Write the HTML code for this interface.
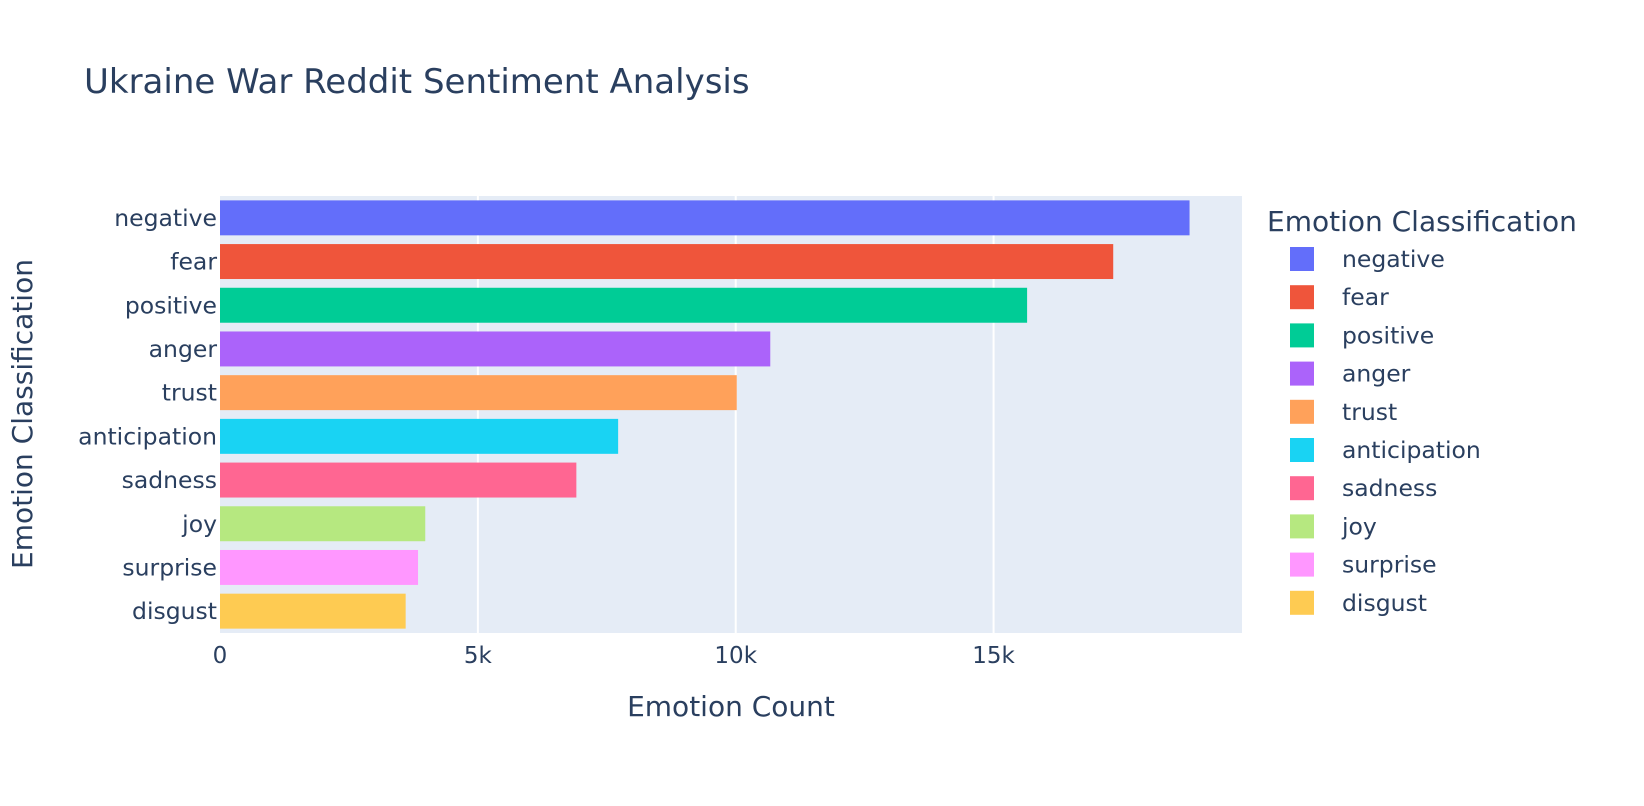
<!DOCTYPE html>
<html><head><meta charset="utf-8"><style>
html,body{margin:0;padding:0;background:#fff;}
svg{display:block;font-family:"DejaVu Sans","Liberation Sans",sans-serif;fill:#2a3f5f;}
</style></head><body>
<svg id="chart" width="1644" height="806">
<text x="84" y="93" font-size="34">Ukraine War Reddit Sentiment Analysis</text>
<rect x="220" y="196" width="1022" height="437" fill="#e5ecf6"/>
<g id="grid"></g><g id="bars"></g><g id="yticks"></g><g id="xticks"></g><g id="legend"></g>
<text x="731" y="716" font-size="28" text-anchor="middle">Emotion Count</text>
<text transform="translate(32,414) rotate(-90)" font-size="28" text-anchor="middle">Emotion Classification</text>
<text x="1267" y="231" font-size="28">Emotion Classification</text>
</svg>
<script>
const categories=["negative","fear","positive","anger","trust","anticipation","sadness","joy","surprise","disgust"];
const values=[18800,17320,15650,10670,10020,7720,6910,3980,3840,3600];
const colors=["#636efa","#EF553B","#00cc96","#ab63fa","#FFA15A","#19d3f3","#FF6692","#B6E880","#FF97FF","#FECB52"];
const xTicks=[0,5000,10000,15000];
const xTickLabels=["0","5k","10k","15k"];
const NS="http://www.w3.org/2000/svg";
const L=220,R=1242,T=196,B=633,XMAX=19817;
const x=v=>L+(v/XMAX)*(R-L);
const band=(B-T)/categories.length;
const y=i=>T+band*i;
function mk(tag,attrs,parent,txt){const e=document.createElementNS(NS,tag);for(const k in attrs)e.setAttribute(k,attrs[k]);if(txt!==undefined)e.textContent=txt;document.getElementById(parent).appendChild(e);return e;}
xTicks.forEach((t,i)=>{
  if(t>0){const g=mk("line",{x1:x(t),x2:x(t),y1:T,y2:B,stroke:"#fff","stroke-width":2},"grid");
  
  }
  const tl=mk("text",{x:x(t),y:B+30,"font-size":23,"text-anchor":"middle"},"xticks",xTickLabels[i]);
  
  
});
categories.forEach((c,i)=>{
  const r=mk("rect",{x:L,y:y(i)+band*0.1,width:x(values[i])-L,height:band*0.8,fill:colors[i]},"bars");
  
  
  const tl=mk("text",{x:L-3,y:y(i)+band/2+8,"font-size":23.5,"text-anchor":"end"},"yticks",c);
  
  
  const ly=259+38.2*i;
  const s=mk("rect",{x:1290,y:ly-12,width:24,height:24,fill:colors[i]},"legend");
  
  
  const lt=mk("text",{x:1342,y:ly+8,"font-size":23.5},"legend",c);
  
  
});
</script>
</body></html>
